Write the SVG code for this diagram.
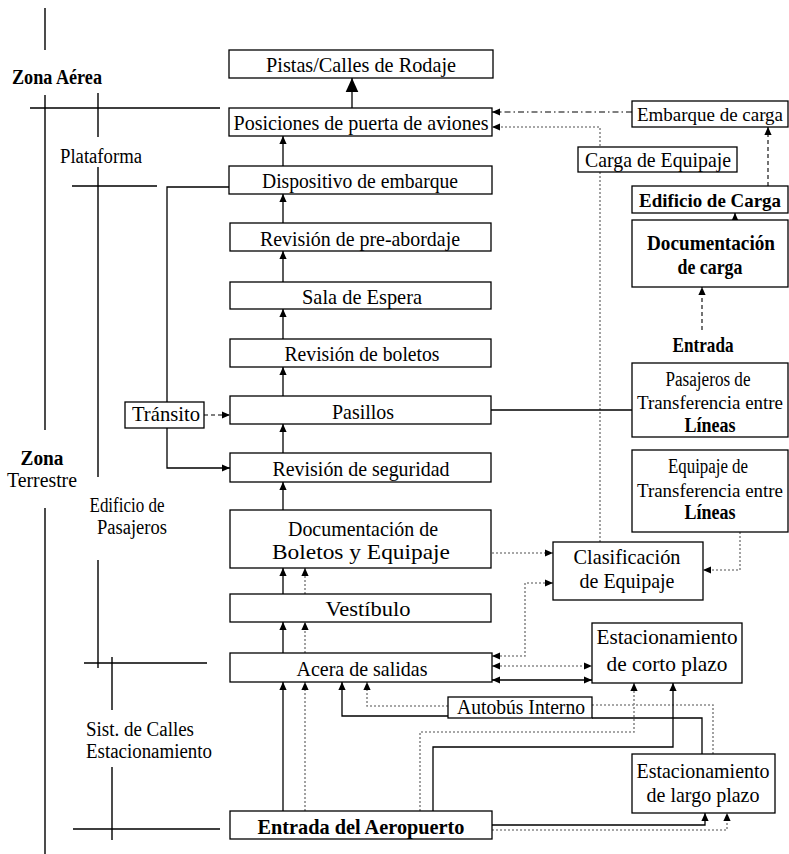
<svg xmlns="http://www.w3.org/2000/svg" width="789" height="854" viewBox="0 0 789 854">
<style>
.bx{fill:#fff;stroke:#000;stroke-width:1.3}
.t{font-family:"Liberation Serif","Times New Roman",serif;font-size:21px;fill:#000;text-anchor:middle}
.b{font-weight:bold}
.l{font-family:"Liberation Serif","Times New Roman",serif;font-size:20px;fill:#000;text-anchor:middle}
.n{font-size:19px}
.s{fill:none;stroke:#000;stroke-width:1.3}
.d{fill:none;stroke:#8a8a8a;stroke-width:1.6;stroke-dasharray:2 2}
.dd{fill:none;stroke:#000;stroke-width:1.1;stroke-dasharray:4 3}
.dc{fill:none;stroke:#000;stroke-width:1.1;stroke-dasharray:6 3 1.5 3}
.z{fill:none;stroke:#000;stroke-width:1.4}
</style>
<defs>
<marker id="a" viewBox="0 0 10 10" refX="10" refY="5" markerWidth="8" markerHeight="8" orient="auto-start-reverse" markerUnits="userSpaceOnUse"><path d="M0,0.5 L10,5 L0,9.5 z" fill="#000"/></marker>
<marker id="A" viewBox="0 0 10 10" refX="10" refY="5" markerWidth="14" markerHeight="14" orient="auto" markerUnits="userSpaceOnUse"><path d="M0,0.5 L10,5 L0,9.5 z" fill="#000"/></marker>
</defs>

<g id="zones">
<path class="z" d="M45,8V50 M45,95V430 M45,508V854 M30,108H220 M98,93V137 M98,167V477 M98,560V668 M72,186H157 M84,663H207 M112,657V710 M112,767V840 M73,829H220"/>
<text class="l b" x="57" y="84" textLength="90" lengthAdjust="spacingAndGlyphs">Zona Aérea</text>
<text class="l" x="101" y="163" textLength="82" lengthAdjust="spacingAndGlyphs">Plataforma</text>
<text class="l b" x="42" y="465" textLength="43" lengthAdjust="spacingAndGlyphs">Zona</text>
<text class="l" x="42" y="487" textLength="70" lengthAdjust="spacingAndGlyphs">Terrestre</text>
<text class="l" x="127" y="512" textLength="75" lengthAdjust="spacingAndGlyphs">Edificio de</text>
<text class="l" x="132" y="534" textLength="70" lengthAdjust="spacingAndGlyphs">Pasajeros</text>
<text class="l" x="140" y="736" textLength="108" lengthAdjust="spacingAndGlyphs">Sist. de Calles</text>
<text class="l" x="149" y="758" textLength="126" lengthAdjust="spacingAndGlyphs">Estacionamiento</text>
</g>

<g id="connectors">
<path class="s" d="M352,108V78" marker-end="url(#A)"/>
<path class="s" d="M283,166V136" marker-end="url(#a)"/>
<path class="s" d="M283,223V194" marker-end="url(#a)"/>
<path class="s" d="M283,282V251" marker-end="url(#a)"/>
<path class="s" d="M283,339V309" marker-end="url(#a)"/>
<path class="s" d="M283,396V367" marker-end="url(#a)"/>
<path class="s" d="M283,453V424" marker-end="url(#a)"/>
<path class="s" d="M283,510V482" marker-end="url(#a)"/>
<path class="s" d="M283,594V568" marker-end="url(#a)"/>
<path class="d" d="M305,594V568" marker-end="url(#a)"/>
<path class="s" d="M283,653V622" marker-end="url(#a)"/>
<path class="d" d="M305,653V622" marker-end="url(#a)"/>
<path class="s" d="M283,811V682" marker-end="url(#a)"/>
<path class="d" d="M305,811V682" marker-end="url(#a)"/>
<path class="s" d="M448,716H342V682" marker-end="url(#a)"/>
<path class="d" d="M448,706H367V682" marker-end="url(#a)"/>
<path class="s" d="M592,718H702V754"/>
<path class="d" d="M592,705H713V754"/>
<path class="d" d="M420,811V732H634V683" marker-end="url(#a)"/>
<path class="s" d="M433,811V747H673V683" marker-end="url(#a)"/>
<path class="s" d="M492,825H705V813" marker-end="url(#a)"/>
<path class="d" d="M492,830H727V813" marker-end="url(#a)"/>
<path class="s" d="M492,680H592" marker-start="url(#a)" marker-end="url(#a)"/>
<path class="d" d="M492,666H592" marker-start="url(#a)" marker-end="url(#a)"/>
<path class="d" d="M492,656H525V583H553" marker-start="url(#a)" marker-end="url(#a)"/>
<path class="d" d="M492,553H553" marker-end="url(#a)"/>
<path class="d" d="M740,532V570H703" marker-end="url(#a)"/>
<path class="d" d="M600,542V127H492" marker-end="url(#a)"/>
<path class="dc" d="M632,112H492" marker-end="url(#a)"/>
<path class="dd" d="M768,186V127" marker-end="url(#a)"/>
<path class="s" d="M735,220V213" marker-end="url(#a)"/>
<path class="dd" d="M702,330V287" marker-end="url(#a)"/>
<path class="s" d="M491,410H632"/>
<path class="s" d="M229,187H167V468H230" marker-end="url(#a)"/>
<path class="dd" d="M204,415H230" marker-end="url(#a)"/>
</g>

<g id="n-pistas"><rect class="bx" x="229" y="50" width="264" height="28"/><text class="t" x="361" y="72" textLength="190" lengthAdjust="spacingAndGlyphs">Pistas/Calles de Rodaje</text></g>
<g id="n-posiciones"><rect class="bx" x="229" y="108" width="263" height="28"/><text class="t" x="361" y="130" textLength="255" lengthAdjust="spacingAndGlyphs">Posiciones de puerta de aviones</text></g>
<g id="n-dispositivo"><rect class="bx" x="229" y="166" width="263" height="28"/><text class="t" x="360" y="188" textLength="196" lengthAdjust="spacingAndGlyphs">Dispositivo de embarque</text></g>
<g id="n-preabordaje"><rect class="bx" x="230" y="223" width="261" height="28"/><text class="t" x="360" y="246" textLength="200" lengthAdjust="spacingAndGlyphs">Revisión de pre-abordaje</text></g>
<g id="n-sala"><rect class="bx" x="230" y="282" width="261" height="27"/><text class="t" x="362" y="304" textLength="120" lengthAdjust="spacingAndGlyphs">Sala de Espera</text></g>
<g id="n-boletos"><rect class="bx" x="230" y="339" width="261" height="28"/><text class="t" x="362" y="361" textLength="155" lengthAdjust="spacingAndGlyphs">Revisión de boletos</text></g>
<g id="n-pasillos"><rect class="bx" x="230" y="396" width="261" height="28"/><text class="t" x="363" y="419" textLength="62" lengthAdjust="spacingAndGlyphs">Pasillos</text></g>
<g id="n-seguridad"><rect class="bx" x="230" y="453" width="261" height="29"/><text class="t" x="361" y="476" textLength="177" lengthAdjust="spacingAndGlyphs">Revisión de seguridad</text></g>
<g id="n-documentacion"><rect class="bx" x="230" y="510" width="261" height="58"/><text class="t" x="363" y="536" textLength="150" lengthAdjust="spacingAndGlyphs">Documentación de</text><text class="t" x="361" y="559" textLength="178" lengthAdjust="spacingAndGlyphs">Boletos y Equipaje</text></g>
<g id="n-vestibulo"><rect class="bx" x="230" y="594" width="261" height="28"/><text class="t" x="368" y="616" textLength="85" lengthAdjust="spacingAndGlyphs">Vestíbulo</text></g>
<g id="n-acera"><rect class="bx" x="230" y="653" width="262" height="29"/><text class="t" x="362" y="676" textLength="131" lengthAdjust="spacingAndGlyphs">Acera de salidas</text></g>
<g id="n-entrada-aero"><rect class="bx" x="230" y="811" width="262" height="28"/><text class="t b" x="361" y="834" textLength="207" lengthAdjust="spacingAndGlyphs">Entrada del Aeropuerto</text></g>
<g id="n-transito"><rect class="bx" x="125" y="402" width="79" height="26"/><text class="t" x="166" y="421" textLength="68" lengthAdjust="spacingAndGlyphs">Tránsito</text></g>

<g id="n-embarque-carga"><rect class="bx" x="632" y="101" width="156" height="26"/><text class="t n" x="710" y="121" textLength="146" lengthAdjust="spacingAndGlyphs">Embarque de carga</text></g>
<g id="n-carga-equipaje"><rect class="bx" x="578" y="147" width="159" height="25"/><text class="t" x="658" y="167" textLength="146" lengthAdjust="spacingAndGlyphs">Carga de Equipaje</text></g>
<g id="n-edificio-carga"><rect class="bx" x="632" y="186" width="156" height="27"/><text class="t b n" x="710" y="207" textLength="142" lengthAdjust="spacingAndGlyphs">Edificio de Carga</text></g>
<g id="n-doc-carga"><rect class="bx" x="632" y="220" width="156" height="67"/><text class="t b" x="711" y="250" textLength="128" lengthAdjust="spacingAndGlyphs">Documentación</text><text class="t b" x="710" y="274" textLength="65" lengthAdjust="spacingAndGlyphs">de carga</text></g>
<g id="n-entrada"><text class="t b" x="703" y="352" textLength="61" lengthAdjust="spacingAndGlyphs">Entrada</text></g>
<g id="n-pasajeros-transf"><rect class="bx" x="632" y="363" width="156" height="74"/><text class="l" x="708" y="386" textLength="85" lengthAdjust="spacingAndGlyphs">Pasajeros de</text><text class="l n" x="710" y="409" textLength="146" lengthAdjust="spacingAndGlyphs">Transferencia entre</text><text class="l b" x="710" y="432" textLength="51" lengthAdjust="spacingAndGlyphs">Líneas</text></g>
<g id="n-equipaje-transf"><rect class="bx" x="632" y="450" width="156" height="82"/><text class="l" x="708" y="473" textLength="80" lengthAdjust="spacingAndGlyphs">Equipaje de</text><text class="l n" x="710" y="497" textLength="146" lengthAdjust="spacingAndGlyphs">Transferencia entre</text><text class="l b" x="710" y="519" textLength="51" lengthAdjust="spacingAndGlyphs">Líneas</text></g>
<g id="n-clasificacion"><rect class="bx" x="553" y="542" width="150" height="58"/><text class="t" x="627" y="564" textLength="107" lengthAdjust="spacingAndGlyphs">Clasificación</text><text class="t" x="627" y="588" textLength="95" lengthAdjust="spacingAndGlyphs">de Equipaje</text></g>
<g id="n-corto-plazo"><rect class="bx" x="592" y="623" width="150" height="60"/><text class="t" x="667" y="644" textLength="141" lengthAdjust="spacingAndGlyphs">Estacionamiento</text><text class="t" x="667" y="671" textLength="121" lengthAdjust="spacingAndGlyphs">de corto plazo</text></g>
<g id="n-autobus"><rect class="bx" x="448" y="697" width="144" height="21"/><text class="t" x="521" y="714" textLength="128" lengthAdjust="spacingAndGlyphs">Autobús Interno</text></g>
<g id="n-largo-plazo"><rect class="bx" x="632" y="754" width="143" height="59"/><text class="t" x="703" y="778" textLength="133" lengthAdjust="spacingAndGlyphs">Estacionamiento</text><text class="t" x="703" y="802" textLength="113" lengthAdjust="spacingAndGlyphs">de largo plazo</text></g>
</svg>
